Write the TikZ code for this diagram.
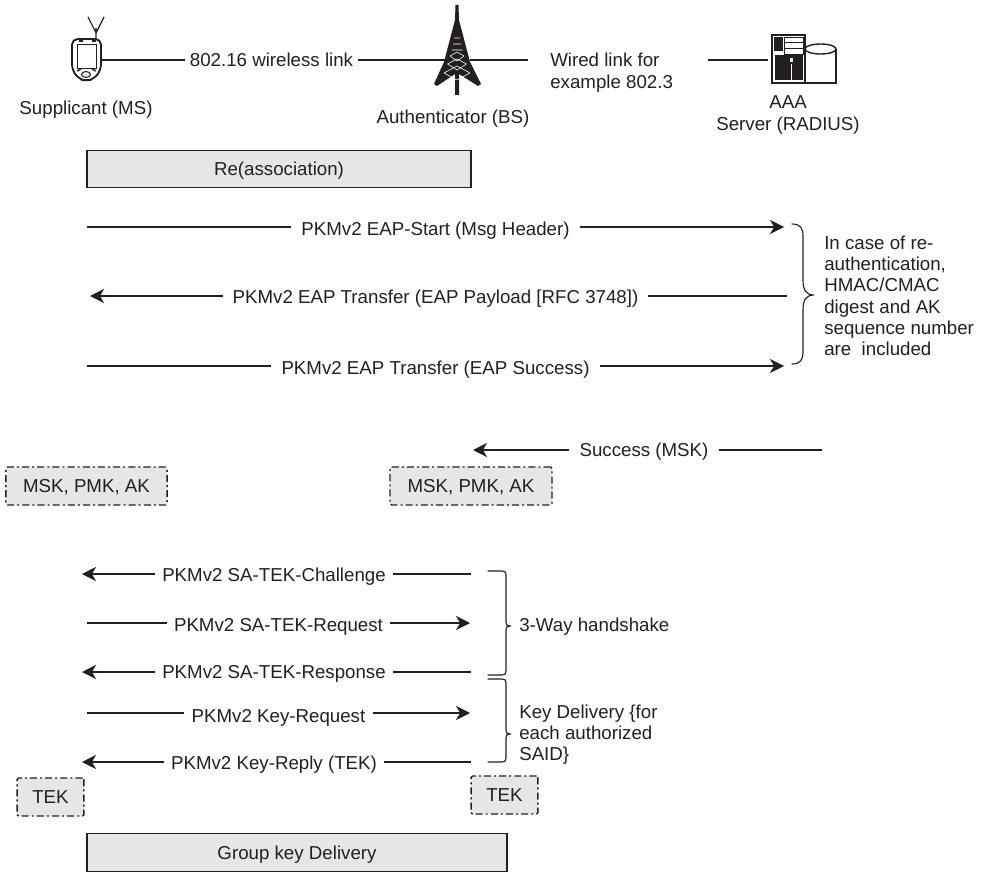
\documentclass[tikz,border=0pt]{standalone}
\usepackage{fontspec}
\setmainfont{Liberation Sans}
\usetikzlibrary{arrows.meta, positioning, calc}
\definecolor{cInk}{RGB}{35,31,32}
\definecolor{cFillGray}{RGB}{229,230,231}
\tikzset{
  %% text
  lbl/.style={font=\fontsize{13.3}{15.1}\selectfont, text=cInk, inner sep=0pt, align=center},
  lblL/.style={lbl, align=left, anchor=north west},
  msg/.style={lbl, inner xsep=7pt},
  msgS/.style={lbl, inner xsep=5pt},
  %% boxes
  phasebox/.style={rectangle, draw=cInk, fill=cFillGray, line width=0.9pt, lbl,
                   text height=9.5pt, text depth=0pt,
                   minimum width=9.6cm, minimum height=0.94cm},
  keybox/.style={rectangle, rounded corners=1pt, draw=cInk, fill=cFillGray, line width=1pt, lbl,
                 text height=9.5pt, text depth=0pt,
                 dash pattern=on 5pt off 2.2pt on 1.4pt off 2.2pt,
                 minimum height=0.95cm},
  %% edges
  link/.style={draw=cInk, line width=0.8pt},
  wire/.style={draw=cInk, line width=0.9pt},
  wireA/.style={wire, -{Stealth[length=10pt,width=10pt,inset=3pt]}},
  bracket/.style={draw=cInk, line width=0.8pt, line cap=round},
}
\begin{document}
\begin{tikzpicture}[x=0.025cm, y=-0.025cm]
\useasboundingbox (0,0) rectangle (984,872);

%% =============================================================
%%  HEADER: stations and links
%% =============================================================

%% --- Supplicant ---
\draw[line width=1.3pt, draw=cInk, rounded corners=4pt, fill=white]
  (72,39) -- (101,39) -- (101,70) -- (94,79) -- (86,81) -- (79,79) -- (72,70) -- cycle;
\draw[line width=0.7pt, draw=cInk] (77,44) rectangle (96,68);
\draw[line width=1.2pt, draw=cInk] (79,41) -- (83,41) (92,41) -- (96,41);
\draw[line width=0.7pt, draw=cInk, fill=cFillGray] (86,74.5) ellipse (4.5 and 3);
\draw[line width=1pt, draw=cInk] (77,71) -- (81,69) (92,69) -- (96,71);
\draw[line width=0.8pt, draw=cInk] (96,39) -- (96,28) (88,17) -- (96,33) -- (104,17);
\coordinate (MS) at (101,60);
\node[lbl] (MSname) at (86,110) {Supplicant (MS)};

%% --- Authenticator tower ---
\fill[cInk] (455.5,5) -- (458.5,5) -- (459,20) -- (470,62) -- (481,84) -- (478,86)
  -- (459,74) -- (459,95) -- (455,95) -- (455,74) -- (437,86) -- (434,84) -- (444,62) -- (455,20) -- cycle;
\draw[white, line width=0.4pt]
  (454,38) -- (460,38) (453,44) -- (461,44) (451.5,50) -- (462.5,50)
  (450,56) -- (457,61) -- (464,56) (450,56) -- (457,52) -- (464,56)
  (447.5,64) -- (457,70) -- (466.5,64) (447.5,64) -- (457,59) -- (466.5,64)
  (444,73) -- (457,80) (470,73) -- (457,80) (444,73) -- (457,66) -- (470,73);
\coordinate (BSl) at (445,60);
\coordinate (BSr) at (470,60);
\node[lbl] (BSname) at (453,119) {Authenticator (BS)};

%% --- AAA server ---
\draw[line width=1pt, draw=cInk, fill=white] (805,49) -- (805,83) -- (836,83) -- (836,49);
\draw[line width=1pt, draw=cInk, fill=white] (820.5,49) ellipse (15.5 and 5);
\draw[line width=1pt, draw=cInk, fill=white] (772,35) rectangle (805,83);
\fill[cInk] (774,37) rectangle (783,51);
\draw[line width=0.7pt, draw=cInk] (784,37) rectangle (803,54) (784,42.5) -- (803,42.5) (784,48) -- (803,48);
\fill[cInk] (775,55) rectangle (803,80);
\fill[cFillGray] (790,58) rectangle (793,62);
\draw[white, line width=0.8pt] (791.5,64) -- (791.5,80);
\coordinate (AAA) at (768,60);
\node[lbl] (AAAname) at (788,115) {AAA\\Server (RADIUS)};

%% --- links ---
\node[lbl, inner xsep=3pt] (wless) at (271.5,60) {802.16 wireless link};
\node[lblL] (wired) at (550,53) {Wired link for\\example 802.3};
\coordinate (wiredL) at (528,60);
\coordinate (wiredR) at (708,60);
\draw[link] (MS) -- (wless);
\draw[link] (wless) -- (BSl);
\draw[link] (BSr) -- (wiredL);
\draw[link] (wiredR) -- (AAA);

%% =============================================================
%%  EAP AUTHENTICATION
%% =============================================================

\node[phasebox] (assoc) at (279,169) {Re(association)};

%% -- free ends of the messages --
\coordinate (S1) at (87,227);  \coordinate (E1) at (784,227);
\coordinate (S2) at (787,296); \coordinate (E2) at (90,296);
\coordinate (S3) at (87,366);  \coordinate (E3) at (784,366);
\coordinate (S4) at (822,450); \coordinate (E4) at (473,450);

\node[msg] (M1) at (435.5,231) {PKMv2 EAP-Start (Msg Header)};
\node[msg] (M2) at (435.5,299) {PKMv2 EAP Transfer (EAP Payload [RFC 3748])};
\node[msg] (M3) at (435.5,370) {PKMv2 EAP Transfer (EAP Success)};
\node[msg] (M4) at (644,452) {Success (MSK)};

\draw[wire] (S1) -- (M1.west |- S1);
\draw[wireA] (M1.east |- E1) -- (E1);
\draw[wire] (S2) -- (M2.east |- S2);
\draw[wireA] (M2.west |- E2) -- (E2);
\draw[wire] (S3) -- (M3.west |- S3);
\draw[wireA] (M3.east |- E3) -- (E3);
\draw[wire] (S4) -- (M4.east |- S4);
\draw[wireA] (M4.west |- E4) -- (E4);

%% -- re-authentication note --
\draw[bracket] (792,224) .. controls (800,224) and (803,228) .. (803,236) -- (803,280)
  .. controls (803,290) and (806,295) .. (814,295)
  .. controls (806,295) and (803,300) .. (803,310) -- (803,352)
  .. controls (803,360) and (800,364) .. (792,364);
\node[lblL] (reauth) at (824,235.5) {In case of re-\\authentication,\\HMAC/CMAC\\digest and AK\\sequence number\\are~ included};

%% -- master keys --
\node[keybox, minimum width=4.03cm] (keysMS) at (86.5,486) {MSK, PMK, AK};
\node[keybox, minimum width=4.05cm] (keysBS) at (471,486) {MSK, PMK, AK};

%% =============================================================
%%  SA-TEK AND KEY DELIVERY
%% =============================================================

\coordinate (S5) at (471,574); \coordinate (E5) at (82,574);
\coordinate (S6) at (87,623);  \coordinate (E6) at (470,623);
\coordinate (S7) at (471,672); \coordinate (E7) at (82,672);
\coordinate (S8) at (87,713);  \coordinate (E8) at (470,713);
\coordinate (S9) at (471,762); \coordinate (E9) at (82,762);

\node[msgS] (M5) at (274,577) {PKMv2 SA-TEK-Challenge};
\node[msgS] (M6) at (278.5,627) {PKMv2 SA-TEK-Request};
\node[msgS] (M7) at (274,674) {PKMv2 SA-TEK-Response};
\node[msgS] (M8) at (278.5,718) {PKMv2 Key-Request};
\node[msgS] (M9) at (274,765) {PKMv2 Key-Reply (TEK)};

\draw[wire] (S5) -- (M5.east |- S5);
\draw[wireA] (M5.west |- E5) -- (E5);
\draw[wire] (S6) -- (M6.west |- S6);
\draw[wireA] (M6.east |- E6) -- (E6);
\draw[wire] (S7) -- (M7.east |- S7);
\draw[wireA] (M7.west |- E7) -- (E7);
\draw[wire] (S8) -- (M8.west |- S8);
\draw[wireA] (M8.east |- E8) -- (E8);
\draw[wire] (S9) -- (M9.east |- S9);
\draw[wireA] (M9.west |- E9) -- (E9);

%% -- handshake brackets --
\draw[bracket] (488,571) -- (502,571) .. controls (505,571) and (506,572) .. (506,575) -- (506,622)
  .. controls (506,625) and (507,626) .. (510,626) .. controls (507,626) and (506,627) .. (506,630)
  -- (506,671) .. controls (506,674) and (505,675) .. (502,675) -- (488,675);
\draw[bracket] (488,679) -- (502,679) .. controls (505,679) and (506,680) .. (506,683) -- (506,730)
  .. controls (506,733) and (507,734) .. (510,734) .. controls (507,734) and (506,735) .. (506,738)
  -- (506,758) .. controls (506,761) and (505,762) .. (502,762) -- (488,762);
\node[lbl, anchor=west] (hshake) at (519,627) {3-Way handshake};
\node[lblL] (kdeliv) at (519,704.5) {Key Delivery \{for\\each authorized\\SAID\}};

%% -- traffic keys --
\node[keybox, minimum width=1.67cm] (tekMS) at (50.5,797) {TEK};
\node[keybox, minimum width=1.67cm] (tekBS) at (504.5,795) {TEK};

\node[phasebox, minimum width=10.5cm] (group) at (297,852.5) {Group key Delivery};

\end{tikzpicture}
\end{document}
